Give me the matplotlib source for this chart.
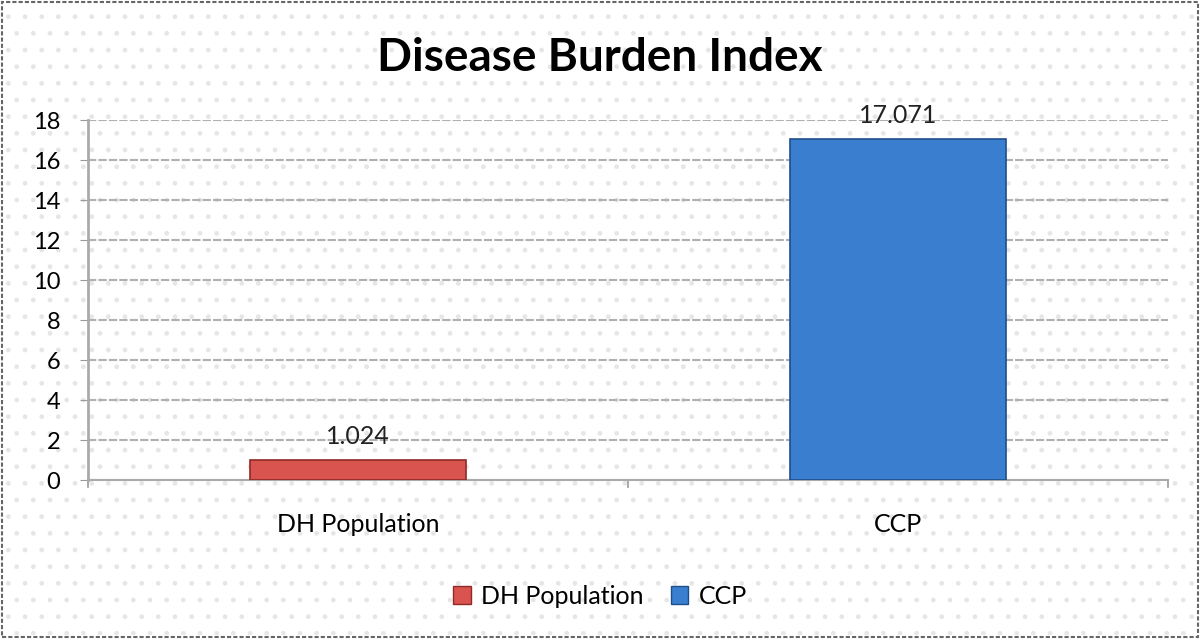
import matplotlib
matplotlib.use('Agg')
import matplotlib.pyplot as plt
from matplotlib.patches import Rectangle, Patch

categories = ['DH Population', 'CCP']
values = [1.024, 17.071]
value_labels = ['1.024', '17.071']
colors = ['#D9534F', '#3A7FCF']
edges = ['#8E2A27', '#1F4E8C']
yticks = [0, 2, 4, 6, 8, 10, 12, 14, 16, 18]

plt.rcParams['font.family'] = ['Lato', 'DejaVu Sans']

fig = plt.figure(figsize=(12, 6.39), dpi=100)
# dotted background and frame
fig.patches.append(Rectangle((0.002, 0.003), 0.996, 0.994, transform=fig.transFigure,
                             facecolor='white', edgecolor='#666666', linestyle=(0, (2, 1)),
                             linewidth=1.5, zorder=-2))
fig.patches.append(Rectangle((0.004, 0.006), 0.992, 0.988, transform=fig.transFigure,
                             facecolor='none', edgecolor='#e6e6e6', hatch='.', linewidth=0,
                             zorder=-1))

ax = fig.add_axes([0.0733, 0.2488, 0.9, 0.5634])
ax.set_facecolor('none')
x = list(range(len(categories)))
bars = ax.bar(x, values, width=0.4, color=colors, edgecolor=edges, linewidth=1.2, zorder=3)

for xi, v, lab in zip(x, values, value_labels):
    ax.text(xi, v + 0.6, lab, ha='center', va='bottom', fontsize=18, color='#222222')

ax.set_xlim(-0.5, 1.5)
ax.set_ylim(0, 18)
ax.set_yticks(yticks)
ax.set_xticks(x)
ax.set_xticklabels(categories, fontsize=18)
ax.tick_params(axis='y', labelsize=17, length=6, color='#999999', pad=14)
ax.tick_params(axis='x', length=0, pad=24)
for xm in [-0.5, 0.5, 1.5]:
    ax.plot([xm, xm], [0, -0.35], color='#999999', lw=1.2, clip_on=False)
ax.grid(axis='y', color='#b0b0b0', linewidth=1.5, linestyle=(0, (4, 1)), zorder=0)
for s in ['top', 'right']:
    ax.spines[s].set_visible(False)
ax.spines['left'].set_color('#aaaaaa')
ax.spines['left'].set_linewidth(2)
ax.spines['bottom'].set_color('#aaaaaa')
ax.spines['bottom'].set_linewidth(1.5)

fig.text(0.5, 0.91, 'Disease Burden Index', ha='center', va='center',
         fontsize=33, fontweight='bold', color='black')

handles = [Patch(facecolor=c, edgecolor=e) for c, e in zip(colors, edges)]
fig.legend(handles, categories, loc='center', bbox_to_anchor=(0.5, 0.067), ncol=2,
           frameon=False, fontsize=18, handlelength=0.7, handleheight=0.7,
           columnspacing=1.1, handletextpad=0.4)

plt.savefig('out.png', dpi=100)
plt.close()
